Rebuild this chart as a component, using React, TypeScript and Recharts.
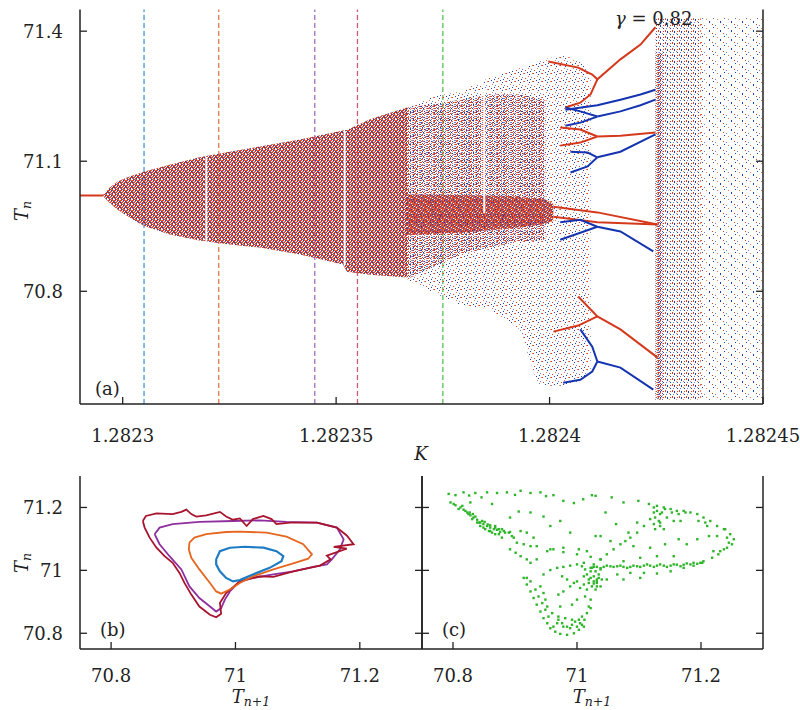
import React from 'react';
import { ComposedChart, XAxis, YAxis, Line, Area, Scatter, ReferenceLine } from 'recharts';

// ---------------- panel (a): axes ----------------
const kTicks = [1.2823, 1.28235, 1.2824, 1.28245];
const tTicksA = [70.8, 71.1, 71.4];
const kDomain = [1.28229, 1.28245];
const tDomainA = [70.54, 71.45];
const markerK = [1.282305, 1.2823225, 1.282345, 1.282355, 1.282375];

// ---------------- panel (a): chaotic bands (K, low T, high T) ----------------
const denseK = [1.2822955, 1.2822969, 1.2822988, 1.2823016, 1.2823049, 1.282311, 1.282318, 1.282325, 1.2823321, 1.2823415, 1.2823516, 1.2823525, 1.2823579, 1.2823666];
const denseLo = [71.018, 71.004, 70.988, 70.97, 70.951, 70.931, 70.917, 70.908, 70.901, 70.885, 70.862, 70.845, 70.838, 70.832];
const denseHi = [71.024, 71.039, 71.053, 71.065, 71.076, 71.092, 71.109, 71.122, 71.134, 71.15, 71.171, 71.172, 71.197, 71.224];

const midK = [1.2823666, 1.2823725, 1.282379, 1.2823861, 1.2823931, 1.282399];
const midLo = [70.827, 70.855, 70.885, 70.901, 70.915, 70.919];
const midHi = [71.224, 71.231, 71.242, 71.254, 71.254, 71.242];

const sparseK = [1.2823666, 1.2823725, 1.282379, 1.2823861, 1.2823931, 1.2823971, 1.282399, 1.2824025, 1.2824049, 1.2824072, 1.2824096];
const sparseLo = [70.827, 70.799, 70.769, 70.758, 70.712, 70.589, 70.582, 70.582, 70.587, 70.591, 70.619];
const sparseHi = [71.224, 71.249, 71.261, 71.293, 71.316, 71.328, 71.335, 71.344, 71.339, 71.33, 71.3];

const coreK = [1.2823666, 1.282379, 1.2823908, 1.282399, 1.2824009];
const coreLo = [70.93, 70.935, 70.945, 70.955, 70.962];
const coreHi = [71.023, 71.022, 71.02, 71.012, 71.002];

const crisisK = [1.2824248, 1.2824265];
const crisisLo = [70.55, 70.55];
const crisisHi = [71.35, 71.35];

const chaosLK = [1.2824248, 1.2824354];
const chaosLLo = [70.55, 70.55];
const chaosLHi = [71.43, 71.43];

const chaosRK = [1.2824354, 1.28245];
const chaosRLo = [70.55, 70.55];
const chaosRHi = [71.43, 71.43];

// periodic windows (white gaps): K, low T, high T
const windowK = [1.2823196, 1.282352, 1.2823847];
const windowLo = [70.915, 70.86, 70.98];
const windowHi = [71.11, 71.17, 71.28];

// ---------------- panel (a): branches [K, T] ----------------
const fixedPoint = [[1.28229, 71.021], [1.2822955, 71.021]];
const redTop = [[1.2823997, 71.33], [1.2824067, 71.316], [1.28241, 71.3], [1.2824112, 71.289], [1.2824166, 71.335], [1.2824213, 71.369], [1.2824248, 71.409]];
const redTopB = [[1.2824112, 71.289], [1.2824096, 71.254], [1.2824072, 71.235], [1.2824037, 71.224]];
const blue1 = [[1.2824037, 71.219], [1.2824112, 71.229], [1.2824166, 71.242], [1.2824213, 71.254], [1.2824248, 71.265]];
const blue2 = [[1.2824112, 71.203], [1.2824166, 71.215], [1.2824213, 71.229], [1.2824248, 71.242]];
const blue2a = [[1.2824112, 71.203], [1.2824072, 71.215], [1.2824037, 71.224]];
const blue2b = [[1.2824112, 71.203], [1.2824072, 71.189], [1.2824037, 71.182]];
const red2 = [[1.2824112, 71.157], [1.2824166, 71.159], [1.2824248, 71.166]];
const red2a = [[1.2824112, 71.157], [1.2824072, 71.173], [1.2824025, 71.178]];
const red2b = [[1.2824112, 71.157], [1.2824072, 71.143], [1.2824025, 71.136]];
const blue3 = [[1.2824112, 71.109], [1.2824166, 71.122], [1.2824248, 71.162]];
const blue3a = [[1.2824112, 71.109], [1.2824089, 71.12], [1.2824049, 71.122]];
const blue3b = [[1.2824112, 71.109], [1.2824089, 71.088], [1.2824049, 71.074]];
const red3 = [[1.2824009, 70.995], [1.2824112, 70.982], [1.2824253, 70.954]];
const red4 = [[1.2824009, 70.972], [1.2824112, 70.959], [1.2824253, 70.954]];
const blue4 = [[1.2824025, 70.959], [1.2824072, 70.965], [1.2824112, 70.949], [1.2824166, 70.938], [1.2824243, 70.892]];
const blue4b = [[1.2824025, 70.919], [1.2824072, 70.935], [1.2824112, 70.949]];
const red5 = [[1.2824067, 70.788], [1.2824112, 70.742], [1.2824166, 70.712], [1.2824253, 70.647]];
const red5b = [[1.2824009, 70.707], [1.2824067, 70.721], [1.2824112, 70.742]];
const blue5 = [[1.2824112, 70.638], [1.2824166, 70.624], [1.2824243, 70.573]];
const blue5a = [[1.2824072, 70.712], [1.28241, 70.672], [1.2824112, 70.638]];
const blue5b = [[1.2824032, 70.589], [1.2824072, 70.596], [1.28241, 70.615], [1.2824112, 70.638]];

const redBranches = [fixedPoint, redTop, redTopB, red2, red2a, red2b, red3, red4, red5, red5b];
const blueBranches = [blue1, blue2, blue2a, blue2b, blue3, blue3a, blue3b, blue4, blue4b, blue5, blue5a, blue5b];

// ---------------- panel (b): closed orbits [T_{n+1}, T_n] ----------------
const pTicks = [70.8, 71, 71.2];
const pDomain = [70.75, 71.3];
const loopBlue = [[70.969, 71.035], [70.975, 71.061], [70.991, 71.072], [71.015, 71.075], [71.045, 71.072], [71.066, 71.061], [71.077, 71.045], [71.074, 71.029], [71.055, 71.008], [71.028, 70.987], [71.007, 70.969], [70.996, 70.965], [70.985, 70.976], [70.975, 70.997], [70.969, 71.019], [70.969, 71.035]];
const loopOrange = [[70.926, 71.088], [70.934, 71.104], [70.953, 71.115], [70.985, 71.122], [71.007, 71.123], [71.05, 71.12], [71.082, 71.107], [71.109, 71.083], [71.123, 71.051], [71.117, 71.037], [71.093, 71.022], [71.061, 71.003], [71.028, 70.981], [71.007, 70.96], [70.991, 70.939], [70.977, 70.926], [70.969, 70.933], [70.959, 70.96], [70.942, 71.003], [70.929, 71.04], [70.925, 71.067], [70.926, 71.088]];
const loopPurple = [[70.87, 71.115], [70.878, 71.136], [70.899, 71.147], [70.942, 71.154], [70.996, 71.157], [71.039, 71.159], [71.082, 71.154], [71.131, 71.152], [71.163, 71.136], [71.174, 71.099], [71.168, 71.067], [71.155, 71.035], [71.147, 71.019], [71.125, 71.011], [71.093, 70.997], [71.061, 70.987], [71.028, 70.976], [71.007, 70.965], [70.991, 70.933], [70.983, 70.907], [70.977, 70.88], [70.969, 70.869], [70.959, 70.885], [70.942, 70.912], [70.926, 70.949], [70.913, 71.003], [70.894, 71.045], [70.878, 71.083], [70.87, 71.115]];
const loopDarkRed = [[70.851, 71.157], [70.856, 71.173], [70.873, 71.181], [70.899, 71.179], [70.913, 71.186], [70.921, 71.193], [70.929, 71.179], [70.937, 71.171], [70.953, 71.175], [70.975, 71.186], [70.985, 71.171], [70.996, 71.161], [71.007, 71.165], [71.018, 71.141], [71.028, 71.163], [71.045, 71.173], [71.058, 71.163], [71.066, 71.147], [71.088, 71.152], [71.131, 71.152], [71.163, 71.136], [71.179, 71.111], [71.19, 71.083], [71.158, 71.075], [71.179, 71.069], [71.147, 71.047], [71.153, 71.035], [71.136, 71.015], [71.093, 70.997], [71.061, 70.979], [71.039, 70.981], [71.007, 70.965], [70.985, 70.928], [70.975, 70.896], [70.977, 70.862], [70.969, 70.851], [70.959, 70.859], [70.942, 70.885], [70.929, 70.923], [70.918, 70.96], [70.91, 70.992], [70.899, 71.024], [70.886, 71.045], [70.873, 71.072], [70.862, 71.104], [70.854, 71.136], [70.851, 71.157]];

// ---------------- panel (c): chaotic return map [T_{n+1}, T_n] ----------------
const attractorC = [
  [70.793, 71.243], [70.804, 71.239], [70.817, 71.248], [70.836, 71.246], [70.855, 71.248], [70.871, 71.246], [70.887, 71.248], [70.909, 71.253], [70.925, 71.246], [70.941, 71.248], [70.962, 71.239], [70.978, 71.221], [70.995, 71.214], [71.024, 71.239], [70.826, 71.238], [70.846, 71.232], [70.9, 71.24], [70.95, 71.236], [71.01, 71.226],
  [70.796, 71.216], [70.804, 71.207], [70.812, 71.2], [70.817, 71.193], [70.823, 71.184], [70.828, 71.175], [70.833, 71.168], [70.839, 71.161], [70.844, 71.152], [70.849, 71.147], [70.855, 71.141], [70.86, 71.136], [70.866, 71.131], [70.871, 71.129], [70.876, 71.122], [70.882, 71.125], [70.89, 71.12], [70.844, 71.141], [70.852, 71.131], [70.863, 71.12], [70.831, 71.163], [70.842, 71.152], [70.825, 71.179], [70.858, 71.125], [70.874, 71.115], [70.868, 71.141],
  [70.801, 71.211], [70.809, 71.195], [70.815, 71.205], [70.82, 71.189], [70.827, 71.184], [70.832, 71.179], [70.836, 71.171], [70.847, 71.157], [70.851, 71.154], [70.856, 71.146], [70.86, 71.143], [70.868, 71.136], [70.874, 71.131], [70.879, 71.131], [70.884, 71.12], [70.892, 71.122], [70.895, 71.109], [70.86, 71.125], [70.849, 71.136], [70.839, 71.152], [70.868, 71.115], [70.879, 71.104],
  [70.828, 71.216], [70.863, 71.211], [70.892, 71.168], [70.906, 71.187], [70.925, 71.184], [70.946, 71.171], [70.973, 71.157], [70.909, 71.125], [70.919, 71.12], [70.93, 71.104], [70.898, 71.104], [70.903, 71.088], [70.914, 71.083], [70.925, 71.077], [70.935, 71.077], [70.892, 71.067], [70.901, 71.056], [70.909, 71.045], [70.919, 71.035], [70.925, 71.024], [70.935, 71.035], [70.952, 71.061], [70.962, 71.067], [70.978, 71.072], [71.003, 71.067], [71.016, 71.061], [71.03, 71.109], [70.957, 71.141], [70.989, 71.12],
  [70.957, 71.067], [70.978, 71.058], [71.0, 71.051], [71.022, 71.043], [71.038, 71.035],
  [70.914, 70.976], [70.919, 70.955], [70.925, 70.933], [70.93, 70.912], [70.935, 70.891], [70.941, 70.869], [70.946, 70.848], [70.952, 70.832], [70.957, 70.816], [70.965, 70.805], [70.973, 70.798], [70.984, 70.795], [70.995, 70.8], [71.003, 70.811], [71.008, 70.827], [71.012, 70.843], [71.016, 70.864], [71.019, 70.885], [71.022, 70.907], [70.946, 70.928], [70.949, 70.907], [70.952, 70.885], [70.96, 70.864], [70.97, 70.853], [70.981, 70.848], [70.992, 70.843], [71.003, 70.843], [70.978, 70.821], [70.989, 70.816], [70.968, 70.832], [71.0, 70.821],
  [70.97, 70.843], [70.976, 70.832], [70.984, 70.821], [70.992, 70.827], [70.997, 70.837], [71.005, 70.832], [71.011, 70.821], [71.008, 70.853], [70.962, 70.821], [70.954, 70.853], [70.949, 70.875], [70.944, 70.896], [70.938, 70.917], [70.933, 70.939], [70.925, 70.965], [70.919, 70.976],
  [70.946, 70.987], [70.957, 71.001], [70.968, 71.008], [70.978, 71.011], [70.989, 71.015], [71.0, 71.019], [71.011, 71.024], [70.97, 70.923], [70.978, 70.933], [70.989, 70.949], [71.0, 70.965], [71.011, 70.981], [71.022, 70.997], [70.984, 70.971], [70.995, 70.96], [70.976, 70.981],
  [71.008, 71.013], [71.013, 71.003], [71.016, 70.987], [71.022, 70.976], [71.027, 70.965], [71.032, 70.971], [71.035, 70.987], [71.03, 70.997], [71.024, 71.008], [71.019, 70.971], [71.011, 70.955], [71.032, 70.949], [71.038, 71.003], [71.005, 70.944], [71.016, 70.939],
  [71.027, 70.981], [71.032, 70.96], [71.035, 70.976], [71.024, 70.949], [71.03, 70.939], [71.038, 70.949], [71.04, 70.971], [71.019, 70.96],
  [71.013, 70.917], [71.022, 70.88], [70.992, 70.891], [71.0, 70.907], [70.973, 70.885], [70.941, 70.949],
  [71.116, 71.211], [71.129, 71.205], [71.14, 71.2], [71.151, 71.195], [71.161, 71.189], [71.172, 71.189], [71.183, 71.184], [71.194, 71.179], [71.204, 71.168], [71.215, 71.157], [71.226, 71.141], [71.237, 71.131], [71.247, 71.115], [71.253, 71.099], [71.25, 71.083], [71.242, 71.072], [71.231, 71.061], [71.218, 71.04], [71.204, 71.029], [71.188, 71.024], [71.118, 71.163], [71.124, 71.147], [71.126, 71.131], [71.134, 71.152], [71.137, 71.184], [71.145, 71.168], [71.156, 71.157], [71.167, 71.157], [71.196, 71.157], [71.207, 71.152], [71.213, 71.109], [71.21, 71.141], [71.226, 71.109], [71.242, 71.104], [71.245, 71.088], [71.239, 71.131], [71.22, 71.061], [71.228, 71.051], [71.237, 71.067],
  [71.124, 71.2], [71.129, 71.189], [71.134, 71.179], [71.124, 71.184], [71.126, 71.168], [71.132, 71.157], [71.134, 71.141], [71.14, 71.131], [71.142, 71.195], [71.153, 71.184], [71.164, 71.179], [71.175, 71.184],
  [71.022, 71.008], [71.032, 71.011], [71.043, 71.011], [71.054, 71.013], [71.065, 71.013], [71.075, 71.011], [71.086, 71.011], [71.097, 71.013], [71.108, 71.015], [71.118, 71.015], [71.129, 71.015], [71.14, 71.015], [71.151, 71.015], [71.161, 71.018], [71.172, 71.018], [71.183, 71.019], [71.194, 71.021], [71.202, 71.024],
  [71.027, 71.011], [71.038, 71.007], [71.048, 71.015], [71.059, 71.011], [71.07, 71.015], [71.081, 71.008], [71.091, 71.015], [71.102, 71.011], [71.113, 71.019], [71.124, 71.011], [71.134, 71.019], [71.145, 71.011], [71.156, 71.019], [71.167, 71.013], [71.177, 71.022], [71.188, 71.015], [71.199, 71.024],
  [71.065, 70.987], [71.086, 70.992], [71.108, 70.992], [71.129, 70.99], [71.151, 70.997], [71.172, 71.008], [71.048, 70.971], [71.032, 70.965], [71.027, 70.958],
  [71.027, 71.019], [71.038, 71.035], [71.048, 71.051], [71.059, 71.067], [71.07, 71.083], [71.078, 71.093], [71.086, 71.104], [71.097, 71.12], [71.108, 71.141],
  [71.03, 71.237], [71.056, 71.232], [71.075, 71.216], [71.099, 71.221], [71.046, 71.184], [71.063, 71.147], [71.097, 71.152], [71.083, 71.12], [71.038, 71.109], [71.054, 71.093], [71.091, 71.077], [71.118, 71.072], [71.142, 71.083], [71.164, 71.099], [71.177, 71.083], [71.194, 71.099], [71.102, 71.04], [71.129, 71.045], [71.156, 71.045], [71.075, 70.971], [71.102, 70.976], [71.075, 71.029],
];

// ---------------- styles ----------------
const RED = '#d5391c';
const BLUE = '#1434b0';
const GREEN = '#2fb52a';
const AX = '#222';
const markerColors = ['#4a93d6', '#e27a52', '#a06cbb', '#c95a72', '#55c055'];
const loopColors = { blue: '#1f7cc4', orange: '#e6661f', purple: '#8f2f9f', darkred: '#a8142e' };
const FONT = "'DejaVu Serif', serif";
const TXT: React.CSSProperties = { fontFamily: FONT, fontSize: 18, fill: '#222' };
const AXL = { stroke: AX, strokeWidth: 1.5 };
const L = 7;

// speckle textures: R/r = red shades, B/b = blue shades, '.' = empty
const SPECK: Record<string, string> = { R: '#d4402a', r: '#e57a62', B: '#1f3fb5', b: '#6a80d0' };
const texDense = ['RR.BRr', 'R.rR.B', 'BRR.RR', 'rR.RB.', '.BRrR.'];
const texCore = ['RRrBRR.', 'R.RRrRB', 'rBR.RRR', 'RRRbR.r', '.RrRRBR'];
const texMid = ['RR.B..r', '....r..', 'b.R...b', '.Rr.B..', 'B....rR', '..R.b..'];
const texSparse = ['.....B...', '.rR......', '.......B.', '.........', '......r..', 'b........', '...R.....', '........B'];
const texChaosL = ['R......', 'R.B..R.', '..B....', '....r..', '.b...B.', '.......'];
const texChaosR = ['.........B.', '..r........', '...........', '.....B.....', '.....B.....', '...........', '........R..', 'b..........', '...........'];

const toKT = (arr: number[][]) => arr.map(([k, t]) => ({ k, t }));
const toXY = (arr: number[][]) => arr.map(([x, y]) => ({ x, y }));
const bandRows = (ks: number[], lo: number[], hi: number[]) => ks.map((k, i) => ({ k, band: [lo[i], hi[i]] }));

function texture(id: string, rows: string[]) {
  const h = rows.length;
  const w = rows[0].length;
  const cells: React.ReactNode[] = [];
  rows.forEach((row, y) =>
    row.split('').forEach((c, x) => {
      if (SPECK[c]) cells.push(<rect key={x + '-' + y} x={x} y={y} width={1} height={1} fill={SPECK[c]} />);
    })
  );
  return (
    <pattern key={id} id={id} width={w} height={h} patternUnits="userSpaceOnUse">
      {cells}
    </pattern>
  );
}

const tickBottom = (label: boolean, off: number) => (p: any) => (
  <g>
    <line x1={p.x} y1={p.y} x2={p.x} y2={p.y - L} stroke={AX} strokeWidth={1.3} />
    {label && (
      <text x={p.x} y={p.y + off} textAnchor="middle" style={TXT}>
        {String(p.payload.value)}
      </text>
    )}
  </g>
);
const tickTop = (p: any) => <line x1={p.x} y1={p.y} x2={p.x} y2={p.y + L} stroke={AX} strokeWidth={1.3} />;
const tickLeft = (label: boolean) => (p: any) => (
  <g>
    <line x1={p.x} y1={p.y} x2={p.x + L} y2={p.y} stroke={AX} strokeWidth={1.3} />
    {label && (
      <text x={p.x - 17} y={p.y + 6.5} textAnchor="end" style={TXT}>
        {String(p.payload.value)}
      </text>
    )}
  </g>
);
const tickRight = (p: any) => <line x1={p.x} y1={p.y} x2={p.x - L} y2={p.y} stroke={AX} strokeWidth={1.3} />;

const HIDDEN_MARGIN_A = { top: 9.5, right: 37, bottom: 66, left: 80 };

function BandLayer({ rows, fill }: { rows: any[]; fill: string }) {
  return (
    <div style={{ position: 'absolute', left: 0, top: 0 }}>
      <ComposedChart width={800} height={470} data={rows} margin={HIDDEN_MARGIN_A}>
        <XAxis dataKey="k" type="number" domain={kDomain} allowDataOverflow hide />
        <YAxis type="number" domain={tDomainA} allowDataOverflow hide />
        <Area dataKey="band" type="linear" fill={fill} fillOpacity={1} stroke="none" isAnimationActive={false} activeDot={false} dot={false} />
      </ComposedChart>
    </div>
  );
}

function Patterns() {
  return (
    <svg width={0} height={0} style={{ position: 'absolute', left: 0, top: 0 }}>
      <defs>
        {texture('pDense', texDense)}
        {texture('pCore', texCore)}
        {texture('pMid', texMid)}
        {texture('pSparse', texSparse)}
        {texture('pChaosL', texChaosL)}
        {texture('pChaosR', texChaosR)}
      </defs>
    </svg>
  );
}

const subLabel = (x: number, y: number, sub: string, rotate: boolean) => (
  <text x={x} y={y} transform={rotate ? `rotate(-90 ${x} ${y})` : undefined} textAnchor="middle" style={TXT}>
    <tspan fontStyle="italic">T</tspan>
    <tspan fontStyle="italic" fontSize={12.5} dy={3}>{sub}</tspan>
  </text>
);

export default function App() {
  return (
    <div style={{ position: 'absolute', left: 0, top: 0, width: 800, height: 710, background: '#fff', overflow: 'hidden' }}>
      <Patterns />

      {/* base layer: dashed markers */}
      <div style={{ position: 'absolute', left: 0, top: 0 }}>
        <ComposedChart width={800} height={470} margin={HIDDEN_MARGIN_A}>
          <XAxis dataKey="k" type="number" domain={kDomain} allowDataOverflow hide />
          <YAxis type="number" domain={tDomainA} allowDataOverflow hide />
          {markerK.map((k, i) => (
            <ReferenceLine key={i} x={k} stroke={markerColors[i]} strokeWidth={1.3} strokeDasharray="5 3" />
          ))}
        </ComposedChart>
      </div>

      <BandLayer rows={bandRows(sparseK, sparseLo, sparseHi)} fill="url(#pSparse)" />
      <BandLayer rows={bandRows(midK, midLo, midHi)} fill="url(#pMid)" />
      <BandLayer rows={bandRows(denseK, denseLo, denseHi)} fill="url(#pDense)" />
      <BandLayer rows={bandRows(coreK, coreLo, coreHi)} fill="url(#pCore)" />
      <BandLayer rows={bandRows(chaosRK, chaosRLo, chaosRHi)} fill="url(#pChaosR)" />
      <BandLayer rows={bandRows(chaosLK, chaosLLo, chaosLHi)} fill="url(#pChaosL)" />
      <BandLayer rows={bandRows(crisisK, crisisLo, crisisHi)} fill="url(#pMid)" />

      {/* top layer: branches and axes */}
      <div style={{ position: 'absolute', left: 0, top: 0 }}>
        <ComposedChart width={800} height={470} margin={{ top: 9.5, right: 0, bottom: 0, left: 0 }}>
          <XAxis xAxisId={0} dataKey="k" type="number" domain={kDomain} allowDataOverflow ticks={kTicks} interval={0} height={66} tickSize={0} tickMargin={0} tickLine={false} axisLine={AXL} tick={tickBottom(true, 37.5)} />
          <XAxis xAxisId="top" orientation="top" type="number" domain={kDomain} allowDataOverflow ticks={kTicks} interval={0} height={0} tickSize={0} tickMargin={0} tickLine={false} axisLine={AXL} tick={tickTop} />
          <YAxis yAxisId={0} type="number" domain={tDomainA} allowDataOverflow ticks={tTicksA} interval={0} width={80} tickSize={0} tickMargin={0} tickLine={false} axisLine={AXL} tick={tickLeft(true)} />
          <YAxis yAxisId="right" orientation="right" type="number" domain={tDomainA} allowDataOverflow ticks={tTicksA} interval={0} width={37} tickSize={0} tickMargin={0} tickLine={false} axisLine={AXL} tick={tickRight} />
          {windowK.map((k, i) => (
            <Line key={'w' + i} data={toKT([[k, windowLo[i]], [k, windowHi[i]]])} dataKey="t" stroke="#fff" strokeWidth={2} dot={false} activeDot={false} isAnimationActive={false} />
          ))}
          {redBranches.map((b, i) => (
            <Line key={'r' + i} data={toKT(b)} dataKey="t" stroke={RED} strokeWidth={2} dot={false} activeDot={false} isAnimationActive={false} />
          ))}
          {blueBranches.map((b, i) => (
            <Line key={'b' + i} data={toKT(b)} dataKey="t" stroke={BLUE} strokeWidth={2} dot={false} activeDot={false} isAnimationActive={false} />
          ))}
        </ComposedChart>
      </div>

      {/* panel (b) */}
      <div style={{ position: 'absolute', left: 0, top: 460 }}>
        <ComposedChart width={430} height={250} margin={{ top: 16, right: 0, bottom: 0, left: 0 }}>
          <XAxis xAxisId={0} dataKey="x" type="number" domain={pDomain} allowDataOverflow ticks={pTicks} interval={0} height={61} tickSize={0} tickMargin={0} tickLine={false} axisLine={AXL} tick={tickBottom(true, 33)} />
          <XAxis xAxisId="top" orientation="top" type="number" domain={pDomain} allowDataOverflow ticks={pTicks} interval={0} height={0} tickSize={0} tickMargin={0} tickLine={false} axisLine={AXL} tick={tickTop} />
          <YAxis yAxisId={0} dataKey="y" type="number" domain={pDomain} allowDataOverflow ticks={pTicks} interval={0} width={80} tickSize={0} tickMargin={0} tickLine={false} axisLine={AXL} tick={tickLeft(true)} />
          <YAxis yAxisId="right" orientation="right" type="number" domain={pDomain} allowDataOverflow ticks={pTicks} interval={0} width={8} tickSize={0} tickMargin={0} tickLine={false} axisLine={AXL} tick={tickRight} />
          <Line data={toXY(loopPurple)} dataKey="y" stroke={loopColors.purple} strokeWidth={1.8} dot={false} activeDot={false} isAnimationActive={false} />
          <Line data={toXY(loopDarkRed)} dataKey="y" stroke={loopColors.darkred} strokeWidth={1.8} dot={false} activeDot={false} isAnimationActive={false} />
          <Line data={toXY(loopOrange)} dataKey="y" stroke={loopColors.orange} strokeWidth={1.8} dot={false} activeDot={false} isAnimationActive={false} />
          <Line data={toXY(loopBlue)} dataKey="y" stroke={loopColors.blue} strokeWidth={2.2} dot={false} activeDot={false} isAnimationActive={false} />
        </ComposedChart>
      </div>

      {/* panel (c) */}
      <div style={{ position: 'absolute', left: 410, top: 460 }}>
        <ComposedChart width={390} height={250} margin={{ top: 16, right: 0, bottom: 0, left: 0 }}>
          <XAxis xAxisId={0} dataKey="x" type="number" domain={pDomain} allowDataOverflow ticks={pTicks} interval={0} height={61} tickSize={0} tickMargin={0} tickLine={false} axisLine={AXL} tick={tickBottom(true, 33)} />
          <XAxis xAxisId="top" orientation="top" type="number" domain={pDomain} allowDataOverflow ticks={pTicks} interval={0} height={0} tickSize={0} tickMargin={0} tickLine={false} axisLine={AXL} tick={tickTop} />
          <YAxis yAxisId={0} dataKey="y" type="number" domain={pDomain} allowDataOverflow ticks={pTicks} interval={0} width={12} tickSize={0} tickMargin={0} tickLine={false} axisLine={AXL} tick={tickLeft(false)} />
          <YAxis yAxisId="right" orientation="right" type="number" domain={pDomain} allowDataOverflow ticks={pTicks} interval={0} width={37} tickSize={0} tickMargin={0} tickLine={false} axisLine={AXL} tick={tickRight} />
          <Scatter data={toXY(attractorC)} isAnimationActive={false} shape={(p: any) => <rect x={p.cx - 1.2} y={p.cy - 1.2} width={2.4} height={2.4} fill={GREEN} />} />
        </ComposedChart>
      </div>

      {/* text overlay */}
      <svg width={800} height={710} style={{ position: 'absolute', left: 0, top: 0, pointerEvents: 'none' }}>
        <text x={615} y={25} style={TXT}>
          <tspan fontStyle="italic">γ</tspan> = 0.82
        </text>
        <text x={95} y={395} style={TXT}>(a)</text>
        <text x={421} y={460} textAnchor="middle" style={TXT} fontStyle="italic">K</text>
        {subLabel(28, 211, 'n', true)}
        <text x={100} y={636} style={TXT}>(b)</text>
        <text x={442} y={636} style={TXT}>(c)</text>
        {subLabel(28, 563, 'n', true)}
        {subLabel(251, 703, 'n+1', false)}
        {subLabel(592, 703, 'n+1', false)}
      </svg>
    </div>
  );
}
